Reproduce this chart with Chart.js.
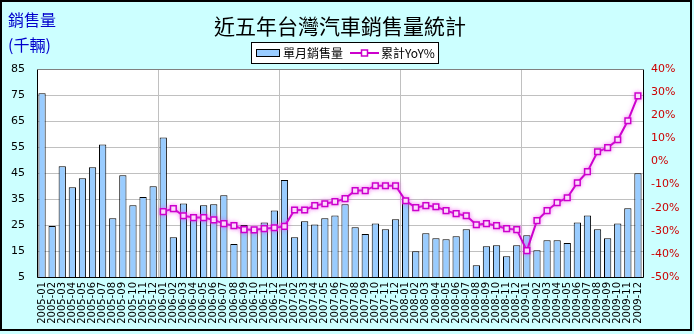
<!DOCTYPE html>
<html>
<head>
<meta charset="utf-8">
<script src="https://cdn.jsdelivr.net/npm/chart.js@4.4.1/dist/chart.umd.min.js"></script>
<style>
  html, body { margin: 0; padding: 0; background: #CCFFFF; }
  canvas { display: block; }
</style>
</head>
<body>
<canvas id="chart" width="694" height="334"></canvas>
<script>
// Monthly categories, 2005-01 .. 2009-12
const months = [
  '2005-01','2005-02','2005-03','2005-04','2005-05','2005-06','2005-07','2005-08','2005-09','2005-10','2005-11','2005-12',
  '2006-01','2006-02','2006-03','2006-04','2006-05','2006-06','2006-07','2006-08','2006-09','2006-10','2006-11','2006-12',
  '2007-01','2007-02','2007-03','2007-04','2007-05','2007-06','2007-07','2007-08','2007-09','2007-10','2007-11','2007-12',
  '2008-01','2008-02','2008-03','2008-04','2008-05','2008-06','2008-07','2008-08','2008-09','2008-10','2008-11','2008-12',
  '2009-01','2009-02','2009-03','2009-04','2009-05','2009-06','2009-07','2009-08','2009-09','2009-10','2009-11','2009-12'
];

// Monthly vehicle sales (thousand units)
const monthlySales = [
  75.7, 24.6, 47.6, 39.5, 43.0, 47.2, 56.0, 27.6, 44.1, 32.6, 35.8, 39.9,
  58.7, 20.3, 33.3, 28.8, 32.6, 33.0, 36.4, 17.7, 25.0, 23.1, 26.0, 30.6,
  42.3, 20.3, 26.4, 25.2, 27.6, 28.7, 33.0, 24.1, 21.5, 25.6, 23.4, 27.2,
  34.9, 14.9, 21.8, 19.9, 19.5, 20.7, 23.4,  9.5, 16.8, 17.2, 13.0, 17.2,
  21.1, 15.3, 19.1, 19.1, 18.1, 26.0, 28.7, 23.4, 19.9, 25.6, 31.4, 44.9
];

// Year-to-date cumulative growth vs. previous year (%), starting 2006-01
const cumulativeYoY = [
  null, null, null, null, null, null, null, null, null, null, null, null,
  -21.7, -20.4, -23.5, -24.3, -24.3, -25.3, -26.9, -27.8, -29.5, -29.6, -29.1, -28.7,
  -28.1, -21.0, -21.0, -19.1, -18.3, -17.4, -16.1, -12.6, -12.6, -10.5, -10.5, -10.5,
  -17.0, -20.0, -19.1, -19.6, -21.3, -22.6, -23.5, -27.4, -26.9, -27.8, -29.1, -29.5,
  -38.6, -25.6, -21.3, -17.8, -15.7,  -9.2,  -4.4,   4.2,   6.0,   9.4,  17.6,  28.4
];

const salesAxisRange = { min: 5, max: 85, step: 10 };
const yoyAxisRange = { min: -50, max: 40, step: 10 };

const chartTitle = '近五年台灣汽車銷售量統計';
const salesAxisTitle = ['銷售量', '(千輛)'];
const seriesNames = ['單月銷售量', '累計YoY%'];

const BAR_FILL = '#99CCFF';
const LINE_COLOR = '#CC00CC';
const CJK = '"Noto Sans CJK TC", "Noto Sans CJK SC", sans-serif';
const LATIN = '"DejaVu Sans", Verdana, sans-serif';

// Background, plot frame, heading, legend box and axis caption
const decorations = {
  id: 'decorations',
  beforeDraw(chart) {
    const { ctx, chartArea: a } = chart;
    ctx.save();
    ctx.fillStyle = '#CCFFFF';
    ctx.fillRect(0, 0, chart.width, chart.height);
    ctx.fillStyle = '#FFFFFF';
    ctx.fillRect(a.left, a.top, a.right - a.left, a.bottom - a.top);
    ctx.restore();
  },
  beforeDatasetDraw(chart, args) {
    if (args.index === 1) {
      chart.ctx.save();
      chart.ctx.shadowColor = 'rgba(240, 80, 240, 0.55)';
      chart.ctx.shadowBlur = 4;
    }
  },
  afterDatasetDraw(chart, args) {
    if (args.index === 1) chart.ctx.restore();
  },
  afterDraw(chart) {
    const { ctx, chartArea: a } = chart;
    ctx.save();

    // plot frame
    ctx.lineWidth = 1;
    ctx.strokeStyle = '#000000';
    ctx.beginPath();
    ctx.moveTo(a.left + 0.5, a.top + 0.5);
    ctx.lineTo(a.left + 0.5, a.bottom + 0.5);
    ctx.lineTo(a.right + 0.5, a.bottom + 0.5);
    ctx.lineTo(a.right + 0.5, a.top + 0.5);
    ctx.stroke();
    ctx.strokeStyle = '#808080';
    ctx.beginPath();
    ctx.moveTo(a.left + 0.5, a.top + 0.5);
    ctx.lineTo(a.right + 0.5, a.top + 0.5);
    ctx.stroke();

    // outer border
    ctx.strokeStyle = '#000000';
    ctx.lineWidth = 2;
    ctx.strokeRect(1, 1, 690, 329);

    // heading
    ctx.fillStyle = '#000000';
    ctx.font = '21px ' + CJK;
    ctx.textAlign = 'center';
    ctx.textBaseline = 'middle';
    ctx.fillText(chartTitle, 340, 26);

    // axis caption
    ctx.fillStyle = '#0000CC';
    ctx.font = '16px ' + CJK;
    ctx.textAlign = 'left';
    ctx.fillText(salesAxisTitle[0], 8, 20);
    ctx.fillText(salesAxisTitle[1], 8, 45);

    // legend box
    const lx = 251, ly = 42, lw = 187, lh = 21;
    ctx.fillStyle = '#FFFFFF';
    ctx.fillRect(lx, ly, lw, lh);
    ctx.strokeStyle = '#000000';
    ctx.lineWidth = 1;
    ctx.strokeRect(lx + 0.5, ly + 0.5, lw, lh);
    const cy = ly + lh / 2 + 0.5;

    ctx.fillStyle = BAR_FILL;
    ctx.fillRect(256, cy - 3.5, 24, 7);
    ctx.strokeRect(256.5, cy - 3.5, 23, 7);

    ctx.fillStyle = '#000000';
    ctx.font = '12px ' + CJK;
    ctx.textBaseline = 'middle';
    ctx.fillText(seriesNames[0], 283, cy);

    ctx.strokeStyle = LINE_COLOR;
    ctx.lineWidth = 2;
    ctx.beginPath();
    ctx.moveTo(350, cy);
    ctx.lineTo(379, cy);
    ctx.stroke();
    ctx.fillStyle = '#FFFFFF';
    ctx.lineWidth = 1.5;
    ctx.fillRect(361.5, cy - 3, 6, 6);
    ctx.strokeRect(361.5, cy - 3, 6, 6);

    ctx.fillStyle = '#000000';
    ctx.fillText(seriesNames[1], 381, cy);

    ctx.restore();
  }
};

new Chart(document.getElementById('chart'), {
  data: {
    labels: months,
    datasets: [
      {
        type: 'bar',
        label: seriesNames[0],
        data: monthlySales,
        yAxisID: 'y',
        backgroundColor: BAR_FILL,
        borderColor: '#000000',
        borderWidth: 1,
        barPercentage: 0.72,
        categoryPercentage: 1,
        order: 2
      },
      {
        type: 'line',
        label: seriesNames[1],
        data: cumulativeYoY,
        yAxisID: 'y1',
        borderColor: LINE_COLOR,
        borderWidth: 2,
        tension: 0,
        pointStyle: 'rect',
        pointRadius: 4,
        pointBackgroundColor: '#FFFFFF',
        pointBorderColor: LINE_COLOR,
        pointBorderWidth: 1.5,
        order: 1
      }
    ]
  },
  options: {
    responsive: false,
    devicePixelRatio: 1,
    animation: false,
    layout: { padding: { top: 69, left: 0, right: 0, bottom: 0 } },
    plugins: {
      legend: { display: false },
      title: { display: false },
      tooltip: { enabled: false }
    },
    scales: {
      x: {
        offset: true,
        border: { display: false },
        grid: {
          offset: true,
          drawTicks: false,
          lineWidth: 1,
          color: c => (c.index > 0 && c.index < months.length && c.index % 12 === 0) ? '#C0C0C0' : 'rgba(0,0,0,0)'
        },
        ticks: {
          autoSkip: false,
          minRotation: 90,
          maxRotation: 90,
          padding: 5,
          color: '#000000',
          font: { family: LATIN, size: 10 }
        },
        afterFit: s => { s.height = 57; }
      },
      y: {
        position: 'left',
        min: salesAxisRange.min,
        max: salesAxisRange.max,
        border: { display: false },
        grid: { color: '#C0C0C0', drawTicks: false, lineWidth: 1 },
        ticks: {
          stepSize: salesAxisRange.step,
          padding: 12,
          color: '#000000',
          font: { family: LATIN, size: 11 }
        },
        afterFit: s => { s.width = 37; }
      },
      y1: {
        position: 'right',
        min: yoyAxisRange.min,
        max: yoyAxisRange.max,
        border: { display: false },
        grid: { display: false, drawTicks: false },
        ticks: {
          stepSize: yoyAxisRange.step,
          padding: 8,
          color: '#CC0000',
          font: { family: LATIN, size: 11 },
          callback: v => v + '%'
        },
        afterFit: s => { s.width = 51; }
      }
    }
  },
  plugins: [decorations]
});
</script>
</body>
</html>
